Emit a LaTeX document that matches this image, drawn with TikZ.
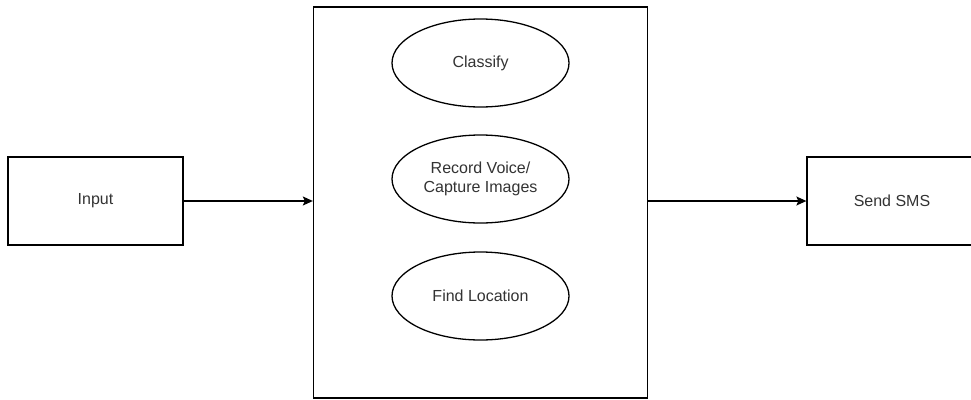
\documentclass[tikz,border=0pt]{standalone}
\usepackage{fontspec}
\setmainfont{Liberation Sans}
\usepackage{xcolor}
\definecolor{ink}{HTML}{000000}
\definecolor{label}{HTML}{333333}
\usepackage{tikz}
\usetikzlibrary{positioning, arrows.meta, shapes.geometric}
\tikzset{
    block/.style = {rectangle, draw=ink, line width=1.3pt, fill=white,
                    minimum width=175pt, minimum height=88pt,
                    font=\fontsize{16}{19}\selectfont, text=label},
    task/.style = {ellipse, draw=ink, line width=1.3pt, inner sep=0pt,
                   minimum width=177pt, minimum height=88pt, align=center,
                   font=\fontsize{16}{19}\selectfont, text=label},
    arrow/.style = {-{Stealth[length=10pt, width=9pt, inset=2pt]},
                    line width=1.3pt, color=ink},
}

\begin{document}
\begin{tikzpicture}[x=1pt, y=-1pt]
        \useasboundingbox (0,0) rectangle (971,399);
        \node[block] (input) at (95.5,201) {Input};
        \node[block, minimum width=334pt, minimum height=391pt] (core) at (480.5,202.5) {};
        \node[block, minimum width=170pt] (sms) at (892,201) {Send SMS};
        \node[task] (classify) at (480.5,63)  {Classify};
        \node[task] (record)   at (480.5,179) {Record Voice/\\Capture Images};
        \node[task] (locate)   at (480.5,296) {Find Location};
        \draw[arrow] (input.east) -- (input.east -| core.west);
        \draw[arrow] (sms.west -| core.east) -- (sms.west);
      \end{tikzpicture}
\end{document}
